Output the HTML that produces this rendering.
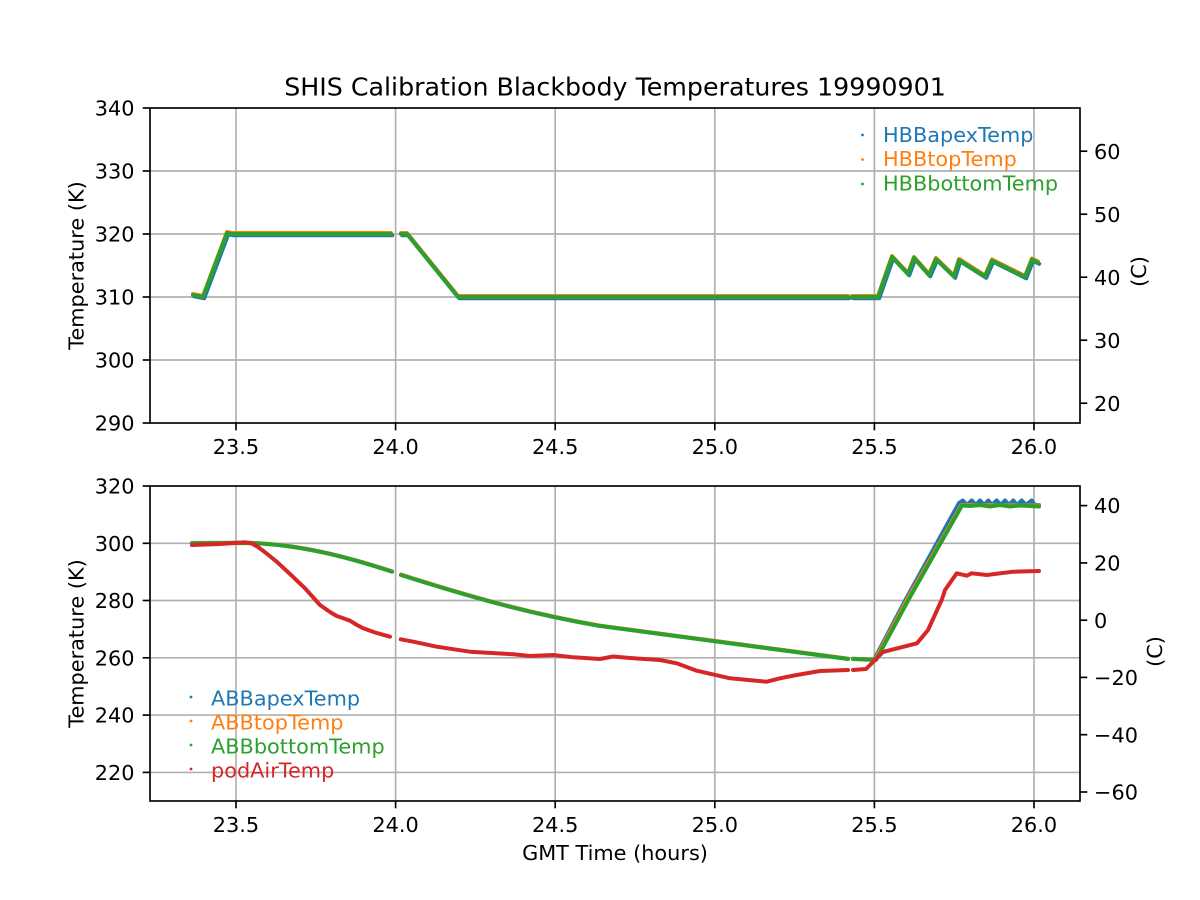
<!DOCTYPE html>
<html>
<head>
<meta charset="utf-8">
<style>
html,body{margin:0;padding:0;background:#fff;}
svg{display:block;}
text{font-family:"DejaVu Sans","Liberation Sans",sans-serif;fill:#000;}
</style>
</head>
<body>
<svg width="1200" height="900" viewBox="0 0 1200 900" xmlns="http://www.w3.org/2000/svg">
<rect width="1200" height="900" fill="#fff"/>

<!-- ================= TOP AXES ================= -->
<g stroke="#b0b0b0" stroke-width="1.67" fill="none">
  <line x1="236" y1="108" x2="236" y2="423"/>
  <line x1="395.6" y1="108" x2="395.6" y2="423"/>
  <line x1="555.2" y1="108" x2="555.2" y2="423"/>
  <line x1="714.8" y1="108" x2="714.8" y2="423"/>
  <line x1="874.4" y1="108" x2="874.4" y2="423"/>
  <line x1="1034" y1="108" x2="1034" y2="423"/>
  <line x1="150" y1="171" x2="1080" y2="171"/>
  <line x1="150" y1="234" x2="1080" y2="234"/>
  <line x1="150" y1="297" x2="1080" y2="297"/>
  <line x1="150" y1="360" x2="1080" y2="360"/>
</g>

<!-- top series -->
<g fill="none" stroke-width="4" stroke-linejoin="round" stroke-linecap="round">
  <g stroke="#ff7f0e" transform="translate(0,-1)">
    <polyline points="193,295 203,297 227,233 232,234 391,234"/>
    <polyline points="401,234 407,234 458,297 848,297"/>
    <polyline points="852,297 878,297 892,257 908,274 914,258 929,275 936,259 954,276.5 959,260 985,276.5 992,260.5 1025,277 1032,259.5 1038,262.5"/>
  </g>
  <g stroke="#1f77b4" transform="translate(1.2,1.3)">
    <polyline points="193,295 203,297 227,233 232,234 391,234"/>
    <polyline points="401,234 407,234 458,297 848,297"/>
    <polyline points="852,297 878,297 892,257 908,274 914,258 929,275 936,259 954,276.5 959,260 985,276.5 992,260.5 1025,277 1032,259.5 1038,262.5"/>
  </g>
  <g stroke="#2ca02c">
    <polyline points="193,295 203,297 227,233 232,234 391,234"/>
    <polyline points="401,234 407,234 458,297 848,297"/>
    <polyline points="852,297 878,297 892,257 908,274 914,258 929,275 936,259 954,276.5 959,260 985,276.5 992,260.5 1025,277 1032,259.5 1038,262.5"/>
  </g>
</g>

<!-- top frame -->
<rect x="150" y="108" width="930" height="315" fill="none" stroke="#000" stroke-width="1.67"/>
<g stroke="#000" stroke-width="1.67">
  <line x1="236" y1="423" x2="236" y2="430.3"/>
  <line x1="395.6" y1="423" x2="395.6" y2="430.3"/>
  <line x1="555.2" y1="423" x2="555.2" y2="430.3"/>
  <line x1="714.8" y1="423" x2="714.8" y2="430.3"/>
  <line x1="874.4" y1="423" x2="874.4" y2="430.3"/>
  <line x1="1034" y1="423" x2="1034" y2="430.3"/>
  <line x1="142.7" y1="108" x2="150" y2="108"/>
  <line x1="142.7" y1="171" x2="150" y2="171"/>
  <line x1="142.7" y1="234" x2="150" y2="234"/>
  <line x1="142.7" y1="297" x2="150" y2="297"/>
  <line x1="142.7" y1="360" x2="150" y2="360"/>
  <line x1="142.7" y1="423" x2="150" y2="423"/>
  <line x1="1080" y1="151.2" x2="1087.3" y2="151.2"/>
  <line x1="1080" y1="214.2" x2="1087.3" y2="214.2"/>
  <line x1="1080" y1="277.2" x2="1087.3" y2="277.2"/>
  <line x1="1080" y1="340.2" x2="1087.3" y2="340.2"/>
  <line x1="1080" y1="403.2" x2="1087.3" y2="403.2"/>
</g>
<g font-size="20.83" text-anchor="middle">
  <text x="236" y="454">23.5</text>
  <text x="395.6" y="454">24.0</text>
  <text x="555.2" y="454">24.5</text>
  <text x="714.8" y="454">25.0</text>
  <text x="874.4" y="454">25.5</text>
  <text x="1034" y="454">26.0</text>
</g>
<g font-size="20.83" text-anchor="end">
  <text x="134.5" y="115.6">340</text>
  <text x="134.5" y="178.6">330</text>
  <text x="134.5" y="241.6">320</text>
  <text x="134.5" y="304.6">310</text>
  <text x="134.5" y="367.6">300</text>
  <text x="134.5" y="430.6">290</text>
</g>
<g font-size="20.83" text-anchor="start">
  <text x="1094" y="158.8">60</text>
  <text x="1094" y="221.8">50</text>
  <text x="1094" y="284.8">40</text>
  <text x="1094" y="347.8">30</text>
  <text x="1094" y="410.8">20</text>
</g>
<text font-size="20.83" text-anchor="middle" transform="translate(83.5,265.5) rotate(-90)">Temperature (K)</text>
<text font-size="20.83" text-anchor="middle" transform="translate(1146,271.5) rotate(-90)">(C)</text>

<!-- top legend -->
<circle cx="862.5" cy="135" r="1.4" fill="#1f77b4"/>
<circle cx="862.5" cy="159.5" r="1.4" fill="#ff7f0e"/>
<circle cx="862.5" cy="184" r="1.4" fill="#2ca02c"/>
<g font-size="20.83">
  <text x="883" y="141.8" style="fill:#1f77b4">HBBapexTemp</text>
  <text x="883" y="166.2" style="fill:#ff7f0e">HBBtopTemp</text>
  <text x="883" y="190.5" style="fill:#2ca02c">HBBbottomTemp</text>
</g>

<text font-size="25.3" text-anchor="middle" x="615" y="95.5">SHIS Calibration Blackbody Temperatures 19990901</text>

<!-- ================= BOTTOM AXES ================= -->
<g stroke="#b0b0b0" stroke-width="1.67" fill="none">
  <line x1="236" y1="486" x2="236" y2="801"/>
  <line x1="395.6" y1="486" x2="395.6" y2="801"/>
  <line x1="555.2" y1="486" x2="555.2" y2="801"/>
  <line x1="714.8" y1="486" x2="714.8" y2="801"/>
  <line x1="874.4" y1="486" x2="874.4" y2="801"/>
  <line x1="1034" y1="486" x2="1034" y2="801"/>
  <line x1="150" y1="543.3" x2="1080" y2="543.3"/>
  <line x1="150" y1="600.5" x2="1080" y2="600.5"/>
  <line x1="150" y1="657.8" x2="1080" y2="657.8"/>
  <line x1="150" y1="715.1" x2="1080" y2="715.1"/>
  <line x1="150" y1="772.4" x2="1080" y2="772.4"/>
</g>

<g fill="none" stroke-width="4" stroke-linejoin="round" stroke-linecap="round">
  <!-- blue -->
  <g stroke="#1f77b4">
    <path d="M192,543 L247,542.8 C300,543.8 350,557.8 392,571.4"/>
    <path d="M401,574.7 C470,596.7 530,613.7 600,625.7 L848,658.7"/>
    <polyline points="853,658.7 874,659.7 907,597 959,503 962.7,500.5 967,505 971.7,500.5 976,505 980,500.5 984,505 988.3,500.5 992,505 996.7,500.5 1001,505 1005,500.5 1009,505 1013.3,500.5 1017,505 1021.7,500.5 1026,505 1031.7,500.5 1035,505 1039,505"/>
  </g>
  <!-- orange -->
  <g stroke="#ff7f0e">
    <path d="M192,543 L247,542.8 C300,543.8 350,557.8 392,571.4"/>
    <path d="M401,574.7 C470,596.7 530,613.7 600,625.7 L848,658.7"/>
    <polyline points="853,658.7 875,659.8 908.5,597 961.5,505 1039,505.5"/>
  </g>
  <!-- green -->
  <g stroke="#2ca02c">
    <path d="M192,543.3 L247,543 C300,544 350,558 392,571.7"/>
    <path d="M401,575 C470,597 530,614 600,626 L848,659"/>
    <polyline points="853,659 876,660 910,597 962,505.5 970,506 980,505 990,506.5 1000,505 1010,506.5 1020,505.5 1030,506 1039,506.5"/>
  </g>
  <!-- red -->
  <g stroke="#d62728">
    <polyline points="192,545 220,544 245,542.3 252,543.5 258,547 266,553 276.7,561.7 290,574 305,588.3 320,605 330,612 336.7,616 344,618.5 350,620.7 357,625 363.3,628.3 375,632.5 390,636.7"/>
    <polyline points="400.7,639.3 413.3,641.7 436.7,646.7 470,651.7 513.3,654.3 530,656 553.3,655 573.3,657.3 600,659 613,656.5 630,658 660,660 676.7,663.3 696.7,670.7 730,678.3 766.7,681.7 780,678.3 796.7,675 820,671 848,670"/>
    <polyline points="853,670 866,669 883,652 917,643.3 928,630 941.7,600 945,590 956.7,573.3 966.7,575.7 971.7,573.3 986.7,575 1013.3,571.7 1039,571"/>
  </g>
</g>

<rect x="150" y="486" width="930" height="315" fill="none" stroke="#000" stroke-width="1.67"/>
<g stroke="#000" stroke-width="1.67">
  <line x1="236" y1="801" x2="236" y2="808.3"/>
  <line x1="395.6" y1="801" x2="395.6" y2="808.3"/>
  <line x1="555.2" y1="801" x2="555.2" y2="808.3"/>
  <line x1="714.8" y1="801" x2="714.8" y2="808.3"/>
  <line x1="874.4" y1="801" x2="874.4" y2="808.3"/>
  <line x1="1034" y1="801" x2="1034" y2="808.3"/>
  <line x1="142.7" y1="486" x2="150" y2="486"/>
  <line x1="142.7" y1="543.3" x2="150" y2="543.3"/>
  <line x1="142.7" y1="600.5" x2="150" y2="600.5"/>
  <line x1="142.7" y1="657.8" x2="150" y2="657.8"/>
  <line x1="142.7" y1="715.1" x2="150" y2="715.1"/>
  <line x1="142.7" y1="772.4" x2="150" y2="772.4"/>
  <line x1="1080" y1="505.6" x2="1087.3" y2="505.6"/>
  <line x1="1080" y1="562.9" x2="1087.3" y2="562.9"/>
  <line x1="1080" y1="620.2" x2="1087.3" y2="620.2"/>
  <line x1="1080" y1="677.4" x2="1087.3" y2="677.4"/>
  <line x1="1080" y1="734.7" x2="1087.3" y2="734.7"/>
  <line x1="1080" y1="792" x2="1087.3" y2="792"/>
</g>
<g font-size="20.83" text-anchor="middle">
  <text x="236" y="832">23.5</text>
  <text x="395.6" y="832">24.0</text>
  <text x="555.2" y="832">24.5</text>
  <text x="714.8" y="832">25.0</text>
  <text x="874.4" y="832">25.5</text>
  <text x="1034" y="832">26.0</text>
</g>
<g font-size="20.83" text-anchor="end">
  <text x="134.5" y="493.6">320</text>
  <text x="134.5" y="550.9">300</text>
  <text x="134.5" y="608.1">280</text>
  <text x="134.5" y="665.4">260</text>
  <text x="134.5" y="722.7">240</text>
  <text x="134.5" y="780">220</text>
</g>
<g font-size="20.83" text-anchor="start">
  <text x="1094" y="513.2">40</text>
  <text x="1094" y="570.5">20</text>
  <text x="1094" y="627.8">0</text>
  <text x="1094" y="685">−20</text>
  <text x="1094" y="742.3">−40</text>
  <text x="1094" y="799.6">−60</text>
</g>
<text font-size="20.83" text-anchor="middle" transform="translate(83.5,643.5) rotate(-90)">Temperature (K)</text>
<text font-size="20.83" text-anchor="middle" transform="translate(1162,651.5) rotate(-90)">(C)</text>
<text font-size="20.83" text-anchor="middle" x="615" y="860">GMT Time (hours)</text>

<!-- bottom legend -->
<circle cx="191" cy="697" r="1.4" fill="#1f77b4"/>
<circle cx="191" cy="721" r="1.4" fill="#ff7f0e"/>
<circle cx="191" cy="745" r="1.4" fill="#2ca02c"/>
<circle cx="191" cy="769" r="1.4" fill="#d62728"/>
<g font-size="20.83">
  <text x="211" y="705.5" style="fill:#1f77b4">ABBapexTemp</text>
  <text x="211" y="729.5" style="fill:#ff7f0e">ABBtopTemp</text>
  <text x="211" y="753.5" style="fill:#2ca02c">ABBbottomTemp</text>
  <text x="211" y="777.5" style="fill:#d62728">podAirTemp</text>
</g>
</svg>
</body>
</html>
